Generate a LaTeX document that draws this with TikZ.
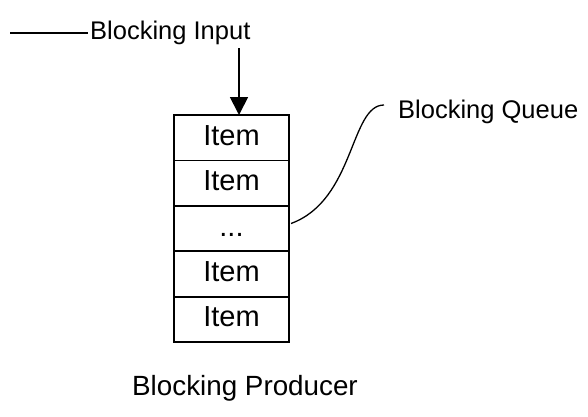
\documentclass[tikz,border=0pt]{standalone}
\usepackage{fontspec}
\setmainfont{Liberation Sans}
\usetikzlibrary{arrows.meta,calc}
\begin{document}
\begin{tikzpicture}[x=1pt,y=-1pt,
  cell/.style={draw,line width=1.8pt,minimum width=115pt,minimum height=45.4pt,
    inner sep=0pt,outer sep=0pt,text height=15pt,text depth=0pt,
    font=\fontsize{29}{32}\selectfont},
  lbl/.style={inner sep=0pt,font=\fontsize{25.5}{30}\selectfont},
  conn/.style={line width=1.3pt}]
\useasboundingbox (0,0) rectangle (588,416);
\node[cell] (r1) at (231.5,137.7) {Item};
\node[cell] (r2) at (231.5,183.1) {Item};
\node[cell] (r3) at (231.5,228.5) {...};
\node[cell] (r4) at (231.5,273.9) {Item};
\node[cell] (r5) at (231.5,319.3) {Item};
\node[lbl,anchor=base west] (input) at (90,39) {Blocking Input};
\node[lbl,anchor=base west] (queue) at (398,118) {Blocking Queue};
\node[lbl,anchor=base,font=\fontsize{27.8}{32}\selectfont] (producer) at (245,395) {Blocking Producer};
\coordinate (lstart) at (10,33);
\coordinate (atop) at (239,48);
\draw[conn] (lstart) -- ($(lstart -| input.west)+(-2,0)$);
\draw[line width=1.8pt,-{Triangle[width=18pt,length=18pt]}] (atop) -- (atop |- r1.north);
\draw[conn] ($(r3.east)+(2,-5)$) .. controls (355,200) and (350,105) .. ($(queue.base west)+(-14,-13)$);
\end{tikzpicture}
\end{document}
